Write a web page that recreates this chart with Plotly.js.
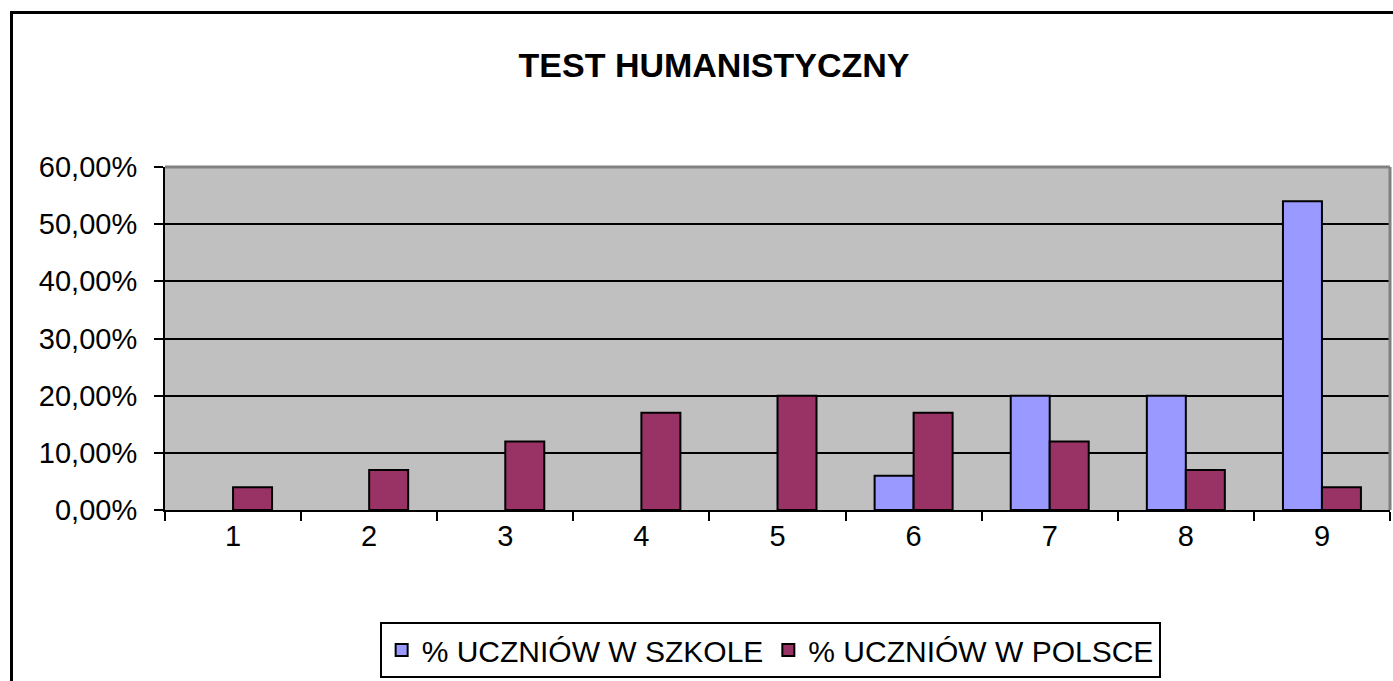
<!DOCTYPE html>
<html>
<head>
<meta charset="utf-8">
<script src="https://cdn.plot.ly/plotly-3.0.1.min.js"></script>
<style>
html,body{margin:0;padding:0;background:#fff;}
#chart{width:1393px;height:681px;position:relative;}
#frame{position:absolute;left:10px;top:11px;right:-10px;bottom:-10px;border-left:3px solid #000;border-top:3px solid #000;pointer-events:none;}
</style>
</head>
<body>
<div style="position:relative;width:1393px;height:681px;overflow:hidden;">
<div id="chart"></div>
<div id="frame"></div>
</div>
<script>
const categories = ["1","2","3","4","5","6","7","8","9"];
const szkolaValues = [0, 0, 0, 0, 0, 0.06, 0.20, 0.20, 0.54];
const polskaValues = [0.04, 0.07, 0.12, 0.17, 0.20, 0.17, 0.12, 0.07, 0.04];
const seriesNames = ["% UCZNIÓW W SZKOLE", "% UCZNIÓW W POLSCE"];
const yTicks = [0, 0.1, 0.2, 0.3, 0.4, 0.5, 0.6];

const FONT = "Liberation Sans, Arial, sans-serif";
// zero-height bars get no outline (as in the original); points fed from the last
// category so the legend swatch keeps its outline
const rev = a => a.slice().reverse();
const outline = vals => rev(vals).map(v => v === 0 ? 0 : 2);

const traces = [
  {type:"bar", name:seriesNames[0], x:rev(categories), y:rev(szkolaValues),
   marker:{color:"#9999FF", line:{color:"#000", width:outline(szkolaValues)}}},
  {type:"bar", name:seriesNames[1], x:rev(categories), y:rev(polskaValues),
   marker:{color:"#993366", line:{color:"#000", width:outline(polskaValues)}}}
];

const layout = {
  width:1393, height:681,
  paper_bgcolor:"rgba(0,0,0,0)",
  plot_bgcolor:"#C0C0C0",
  separators:", ",
  font:{family:FONT, color:"#000", size:29},
  margin:{l:165, r:3, t:167, b:171, pad:0},
  barmode:"group", bargap:0.427, bargroupgap:0,
  title:{text:"<b>TEST HUMANISTYCZNY</b>", font:{family:FONT, size:34, color:"#000"},
         xref:"container", x:0.5126, xanchor:"center", yref:"container", y:0.9046, yanchor:"middle"},
  xaxis:{type:"category", categoryorder:"array", categoryarray:categories,
         showgrid:false, zeroline:false,
         showline:true, linecolor:"#000", linewidth:2,
         ticks:"outside", tickson:"boundaries", ticklen:9, tickwidth:2, tickcolor:"#000",
         ticklabelstandoff:-1,
         tickfont:{family:FONT, size:29, color:"#000"}},
  yaxis:{range:[0,0.6], tickvals:yTicks, tickformat:".2%",
         showgrid:true, gridcolor:"#000", gridwidth:2, zeroline:false,
         showline:true, linecolor:"#000", linewidth:2,
         ticks:"outside", ticklen:9, tickwidth:2, tickcolor:"#000",
         ticklabelstandoff:11,
         tickfont:{family:FONT, size:29, color:"#000"}},
  showlegend:true,
  legend:{orientation:"h", xref:"paper", x:0.494, xanchor:"center", yref:"paper", y:-0.3265, yanchor:"top",
          bgcolor:"#fff", bordercolor:"#000", borderwidth:2,
          font:{family:FONT, size:30, color:"#000"}, itemwidth:30, tracegroupgap:0},
  shapes:[
    {type:"line", xref:"paper", yref:"paper", x0:0, x1:1, y0:1, y1:1, line:{color:"#808080", width:3}},
    {type:"line", xref:"paper", yref:"paper", x0:1, x1:1, y0:0, y1:1, line:{color:"#808080", width:3}}
  ]
};

Plotly.newPlot("chart", traces, layout, {displayModeBar:false, staticPlot:true});
</script>
</body>
</html>
